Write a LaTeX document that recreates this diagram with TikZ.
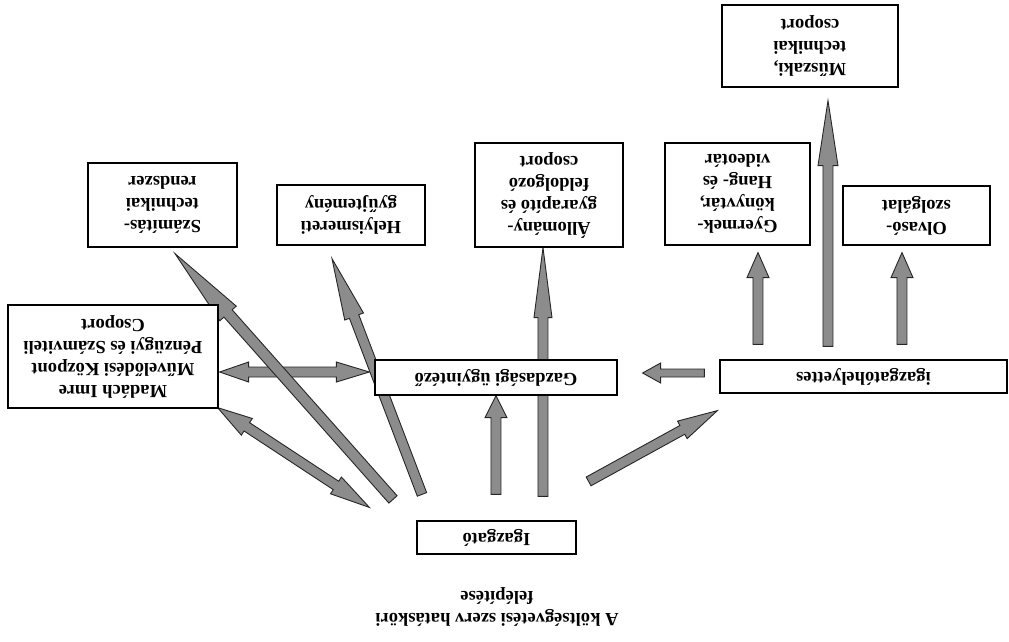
\documentclass[tikz,border=0pt]{standalone}
\usepackage{fontspec}
\setmainfont{Liberation Serif}
\usetikzlibrary{calc, backgrounds}

\tikzset{
    unit/.style={draw, line width=1.2pt, fill=white, align=center, inner sep=0pt,
        font=\fontsize{18.5}{22}\selectfont\bfseries},
    arrowfill/.style={fill=black!45, draw=black!85, line width=0.9pt, line join=miter},
}

% tail, tip, shaft half width, head length, head half width
\newcommand{\blockarrow}[5]{%
    \path #1 coordinate (ba-p) #2 coordinate (ba-q);
    \path ($(ba-q)!#4!(ba-p)$) coordinate (ba-r);
    \filldraw[arrowfill] ($(ba-p)!#3!90:(ba-q)$) -- ($(ba-r)!#3!-90:(ba-p)$)
        -- ($(ba-r)!#5!-90:(ba-p)$) -- (ba-q) -- ($(ba-r)!#5!90:(ba-p)$)
        -- ($(ba-r)!#3!90:(ba-p)$) -- ($(ba-p)!#3!-90:(ba-q)$) -- cycle;
}
% end a, end b, shaft half width, head length at a, head length at b, head half width
\newcommand{\twowayarrow}[6]{%
    \path #1 coordinate (ba-p) #2 coordinate (ba-q);
    \path ($(ba-p)!#4!(ba-q)$) coordinate (ba-s) ($(ba-q)!#5!(ba-p)$) coordinate (ba-r);
    \filldraw[arrowfill] (ba-p) -- ($(ba-s)!#6!90:(ba-q)$) -- ($(ba-s)!#3!90:(ba-q)$)
        -- ($(ba-r)!#3!-90:(ba-p)$) -- ($(ba-r)!#6!-90:(ba-p)$) -- (ba-q)
        -- ($(ba-r)!#6!90:(ba-p)$) -- ($(ba-r)!#3!90:(ba-p)$)
        -- ($(ba-s)!#3!-90:(ba-q)$) -- ($(ba-s)!#6!-90:(ba-q)$) -- cycle;
}

\begin{document}
\begin{tikzpicture}[x=1pt, y=1pt, rotate=180, transform shape]
    \useasboundingbox (0,0) rectangle (1009,641);

    \node[unit, minimum width=159pt, minimum height=33pt] (igazgato) at (512.5,537.5) {Igazgató};
    \node[unit, minimum width=242pt, minimum height=35pt] (gazd) at (513,377.5) {Gazdasági ügyintéző};
    \node[unit, minimum width=287pt, minimum height=33pt] (helyettes) at (145.5,376.5) {igazgatóhelyettes};
    \node[unit, minimum width=210pt, minimum height=103pt] (madach) at (896,356.5)
        {Madách Imre\\Művelődési Központ\\Pénzügyi és Számviteli\\Csoport};
    \node[unit, minimum width=149pt, minimum height=84pt] (szamitas) at (846.5,205) {Számítás-\\technikai\\rendszer};
    \node[unit, minimum width=148pt, minimum height=60pt] (helyism) at (658,215) {Helyismereti\\gyűjtemény};
    \node[unit, minimum width=148pt, minimum height=104pt] (allomany) at (460,195)
        {Állomány-\\gyarapító és\\feldolgozó\\csoport};
    \node[unit, minimum width=145pt, minimum height=102pt] (gyermek) at (271.5,194)
        {Gyermek-\\könyvtár,\\Hang- és\\videotár};
    \node[unit, minimum width=147pt, minimum height=59pt] (olvaso) at (92.5,215.5) {Olvasó-\\szolgálat};
    \node[unit, minimum width=176pt, minimum height=82pt] (muszaki) at (199,46) {Műszaki,\\technikai\\csoport};
    \node[unit, draw=none, fill=none] (cim) at (512,606.5) {A költségvetési szerv hatásköri\\felépítése};

    \begin{scope}[on background layer]
        \twowayarrow{($(gazd.east)+(5,-5.5)$)}{($(madach.west)+(-1,15.5)$)}{5pt}{33pt}{29pt}{10pt}
        \twowayarrow{($(igazgato.south east)+(47,-13)$)}{($(madach.north west)+(1,-1)$)}{5pt}{40pt}{35pt}{10pt}
        \blockarrow{($(igazgato.south)+(0.5,-26)$)}{(gazd.north)}{5pt}{22pt}{11pt}
        \blockarrow{($(igazgato.south)+(-46.5,-24)$)}{($(allomany.north)+(6,0)$)}{5pt}{70pt}{9pt}
        \blockarrow{($(igazgato.south)+(74.5,-26)$)}{($(helyism.north)+(19,13)$)}{5pt}{62pt}{10pt}
        \blockarrow{($(igazgato.south)+(103.5,-21)$)}{($(szamitas.north)+(-12.5,6)$)}{5.5pt}{80pt}{11pt}
        \blockarrow{($(igazgato.south west)+(-12,-39)$)}{($(helyettes.north east)+(2,17)$)}{5pt}{40pt}{10pt}
        \blockarrow{($(helyettes.east)+(15,-3.5)$)}{($(gazd.west)+(-25,-4.5)$)}{4pt}{18pt}{10pt}
        \blockarrow{($(helyettes.south)+(105.5,-15)$)}{($(gyermek.north)+(-20.5,7)$)}{5pt}{25pt}{11pt}
        \blockarrow{($(helyettes.south)+(35.5,-13)$)}{($(muszaki.north)+(-18,13)$)}{5pt}{65pt}{10pt}
        \blockarrow{($(helyettes.south)+(-38.5,-15)$)}{($(olvaso.north)+(14.5,7)$)}{5pt}{25pt}{11pt}
    \end{scope}
\end{tikzpicture}
\end{document}
